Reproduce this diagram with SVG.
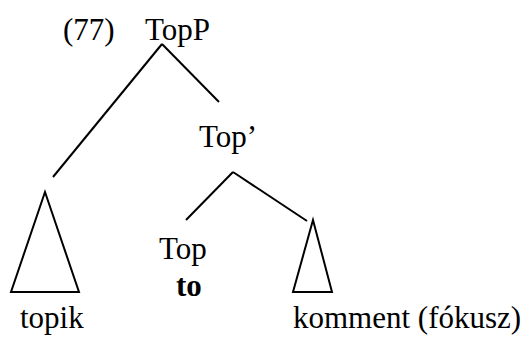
<svg xmlns="http://www.w3.org/2000/svg" width="523" height="337" viewBox="0 0 523 337">
  <style>
    .lbl { font-family: "Liberation Serif", "Times New Roman", serif; font-size: 31px; fill: #000; }
    .b { font-weight: bold; }
    .edge { stroke: #000; stroke-width: 2; fill: none; }
    .tri { stroke: #000; stroke-width: 2; fill: none; }
  </style>
  <rect width="523" height="337" fill="#fff"/>
  <!-- tree branches -->
  <g id="connectors">
    <line class="edge" x1="162" y1="44" x2="53" y2="177"/>
    <line class="edge" x1="162" y1="44" x2="219" y2="102"/>
    <line class="edge" x1="233" y1="172" x2="186" y2="220"/>
    <line class="edge" x1="233" y1="172" x2="307" y2="221"/>
  </g>
  <g id="label-77">
    <text class="lbl" x="63" y="40">(77)</text>
  </g>
  <g id="TopP">
    <text class="lbl" x="145" y="40">TopP</text>
  </g>
  <g id="TopBar">
    <text class="lbl" x="199" y="147">Top’</text>
  </g>
  <g id="topik">
    <polygon class="tri" points="45,192 11,292 79,292"/>
    <text class="lbl" x="20" y="328">topik</text>
  </g>
  <g id="Top">
    <text class="lbl" x="159" y="259">Top</text>
    <text class="lbl b" x="176" y="296">to</text>
  </g>
  <g id="komment">
    <polygon class="tri" points="313,220 293,292 332,292"/>
    <text class="lbl" x="293" y="328">komment (fókusz)</text>
  </g>
</svg>
